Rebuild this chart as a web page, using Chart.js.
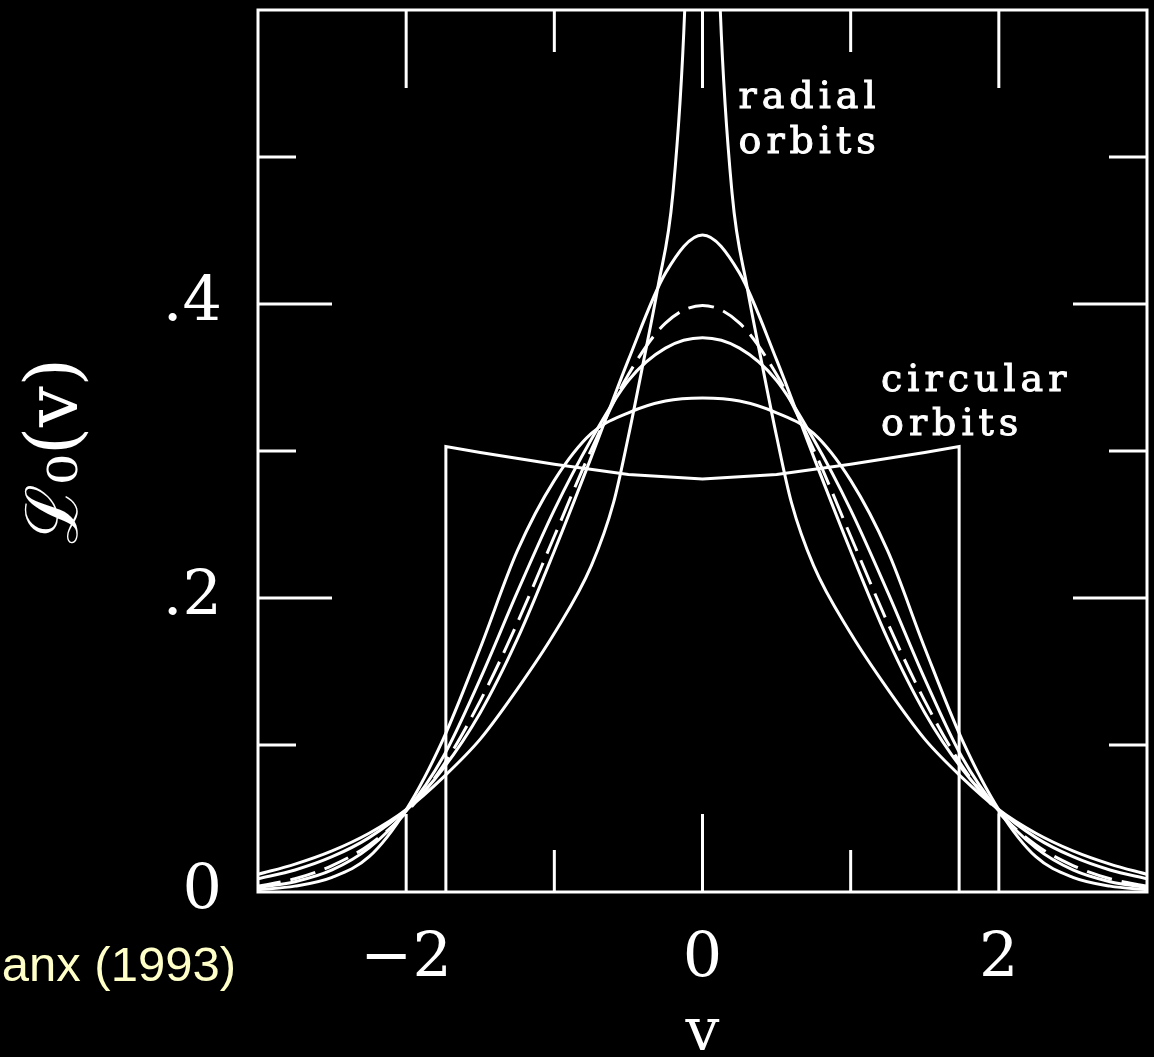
<!DOCTYPE html>
<html>
<head>
<meta charset="utf-8">
<title>Line-of-sight velocity profiles</title>
<script src="https://cdn.jsdelivr.net/npm/chart.js@4.4.1/dist/chart.umd.min.js"></script>
<style>
  html, body { margin: 0; padding: 0; background: #000; }
  canvas { display: block; }
</style>
</head>
<body>
<canvas id="chart" width="1154" height="1057"></canvas>
<script>
// velocity grid (in units of the dispersion) for the smooth profiles
const vGrid = [-3, -2.75, -2.5, -2.25, -2, -1.75, -1.5, -1.25, -1, -0.75, -0.5, -0.25, 0,
               0.25, 0.5, 0.75, 1, 1.25, 1.5, 1.75, 2, 2.25, 2.5, 2.75, 3];

// gaussian reference profile (dashed)
const gaussProfile = [0.004, 0.009, 0.018, 0.032, 0.054, 0.086, 0.130, 0.183, 0.242, 0.301, 0.352, 0.387, 0.399,
                      0.387, 0.352, 0.301, 0.242, 0.183, 0.130, 0.086, 0.054, 0.032, 0.018, 0.009, 0.004];
const peak45Profile = [0.009, 0.015, 0.024, 0.037, 0.056, 0.084, 0.122, 0.172, 0.232, 0.296, 0.362, 0.421, 0.447,
                       0.421, 0.362, 0.296, 0.232, 0.172, 0.122, 0.084, 0.056, 0.037, 0.024, 0.015, 0.009];
const peak375Profile = [0.003, 0.007, 0.015, 0.030, 0.055, 0.092, 0.145, 0.204, 0.260, 0.308, 0.348, 0.370, 0.377,
                        0.370, 0.348, 0.308, 0.260, 0.204, 0.145, 0.092, 0.055, 0.030, 0.015, 0.007, 0.003];
const peak333Profile = [0.0015, 0.004, 0.010, 0.024, 0.056, 0.104, 0.166, 0.232, 0.280, 0.312, 0.326, 0.334, 0.336,
                        0.334, 0.326, 0.312, 0.280, 0.232, 0.166, 0.104, 0.056, 0.024, 0.010, 0.004, 0.0015];

// radial orbits: cusp at v = 0, finer sampling near the centre
const radialV = [-3, -2.75, -2.5, -2.25, -2, -1.75, -1.5, -1.25, -1, -0.75, -0.6, -0.5, -0.4, -0.3, -0.2, -0.12, -0.05, 0,
                 0.05, 0.12, 0.2, 0.3, 0.4, 0.5, 0.6, 0.75, 1, 1.25, 1.5, 1.75, 2, 2.25, 2.5, 2.75, 3];
const radialProfile = [0.012, 0.019, 0.028, 0.040, 0.056, 0.078, 0.104, 0.138, 0.176, 0.222, 0.265, 0.310, 0.360, 0.412, 0.475, 0.600, 0.850, 1.200,
                       0.850, 0.600, 0.475, 0.412, 0.360, 0.310, 0.265, 0.222, 0.176, 0.138, 0.104, 0.078, 0.056, 0.040, 0.028, 0.019, 0.012];

// circular orbits: box between -sqrt(3) and +sqrt(3)
const circularV = [-1.732, -1.732, -1.5, -1, -0.5, 0, 0.5, 1, 1.5, 1.732, 1.732];
const circularProfile = [0, 0.303, 0.299, 0.291, 0.284, 0.281, 0.284, 0.291, 0.299, 0.303, 0];

// axis ticks
const xTickVals = [-2, 0, 2];
const xTickLabels = ['\u22122', '0', '2'];
const xMinorTicks = [-1, 1];
const yTickVals = [0, 0.2, 0.4];
const yTickLabels = ['0', '.2', '.4'];
const yMajorTicks = [0.2, 0.4];
const yMinorTicks = [0.1, 0.3, 0.5];

const WHITE = '#ffffff';
const SERIF = '"DejaVu Serif", "Liberation Serif", serif';

function toPoints(xs, ys) {
  return xs.map((v, i) => ({ x: v, y: ys[i] }));
}

function profile(xs, ys, extra) {
  return Object.assign({
    data: toPoints(xs, ys),
    borderColor: WHITE,
    borderWidth: 3,
    pointRadius: 0,
    fill: false,
    cubicInterpolationMode: 'monotone'
  }, extra || {});
}

// frame, inward tick marks and the orbit labels
const framePlugin = {
  id: 'frame',
  beforeDraw(chart) {
    const ctx = chart.ctx;
    ctx.save();
    ctx.fillStyle = '#000';
    ctx.fillRect(0, 0, chart.width, chart.height);
    ctx.restore();
  },
  afterDatasetsDraw(chart) {
    const { ctx, chartArea: a, scales: { x, y } } = chart;
    ctx.save();
    ctx.strokeStyle = WHITE;
    ctx.lineWidth = 3;
    ctx.lineCap = 'square';
    ctx.strokeRect(a.left, a.top, a.right - a.left, a.bottom - a.top);

    const seg = (x1, y1, x2, y2) => {
      ctx.beginPath();
      ctx.moveTo(x1, y1);
      ctx.lineTo(x2, y2);
      ctx.stroke();
    };
    ctx.lineCap = 'butt';
    const xTick = (v, len) => {
      const px = x.getPixelForValue(v);
      seg(px, a.bottom, px, a.bottom - len);
      seg(px, a.top, px, a.top + len);
    };
    const yTick = (v, len) => {
      const py = y.getPixelForValue(v);
      seg(a.left, py, a.left + len, py);
      seg(a.right, py, a.right - len, py);
    };
    xTickVals.forEach(v => xTick(v, 78));
    xMinorTicks.forEach(v => xTick(v, 42));
    yMajorTicks.forEach(v => yTick(v, 74));
    yMinorTicks.forEach(v => yTick(v, 38));

    // orbit labels, slightly emboldened with a thin outline
    ctx.fillStyle = WHITE;
    ctx.lineWidth = 1;
    ctx.font = '38px ' + SERIF;
    ctx.letterSpacing = '5px';
    ctx.textAlign = 'left';
    ctx.textBaseline = 'alphabetic';
    const note = (text, v, val) => {
      const px = x.getPixelForValue(v);
      const py = y.getPixelForValue(val);
      ctx.fillText(text, px, py);
      ctx.strokeText(text, px, py);
    };
    note('radial', 0.243, 0.533);
    note('orbits', 0.243, 0.503);
    note('circular', 1.205, 0.341);
    note('orbits', 1.205, 0.311);
    ctx.letterSpacing = '0px';

    // reference line at the lower left
    ctx.fillStyle = '#ffffc8';
    ctx.font = '49px "Liberation Sans", Arial, sans-serif';
    ctx.textAlign = 'right';
    ctx.fillText('anx (1993)', 236, 981);
    ctx.restore();
  }
};

const ctx = document.getElementById('chart').getContext('2d');
new Chart(ctx, {
  type: 'line',
  data: {
    datasets: [
      profile(radialV, radialProfile),
      profile(vGrid, peak45Profile),
      profile(vGrid, gaussProfile, { borderDash: [26, 10], borderDashOffset: 3 }),
      profile(vGrid, peak375Profile),
      profile(vGrid, peak333Profile),
      profile(circularV, circularProfile, { cubicInterpolationMode: 'default', tension: 0 })
    ]
  },
  options: {
    responsive: false,
    animation: false,
    events: [],
    layout: { padding: { top: 10, right: 7, bottom: 0, left: 0 } },
    plugins: {
      legend: { display: false },
      tooltip: { enabled: false }
    },
    scales: {
      x: {
        type: 'linear',
        min: -3,
        max: 3,
        grid: { display: false, drawTicks: false },
        border: { display: false },
        afterBuildTicks: s => { s.ticks = xTickVals.map(v => ({ value: v })); },
        afterFit: s => {
          s.height = 165;
          s.paddingLeft = 0;
          s.paddingRight = 0;
        },
        ticks: {
          color: WHITE,
          padding: 31,
          maxRotation: 0,
          autoSkip: false,
          font: { family: SERIF, size: 62 },
          callback: v => xTickLabels[xTickVals.indexOf(v)]
        },
        title: {
          display: true,
          text: 'v',
          color: WHITE,
          padding: 0,
          font: { family: SERIF, size: 60, lineHeight: 0.75 }
        }
      },
      y: {
        min: 0,
        max: 0.6,
        grid: { display: false, drawTicks: false },
        border: { display: false },
        afterBuildTicks: s => { s.ticks = yTickVals.map(v => ({ value: v })); },
        afterFit: s => {
          s.width = 258;
          s.paddingTop = 0;
          s.paddingBottom = 0;
        },
        ticks: {
          color: WHITE,
          padding: 36,
          autoSkip: false,
          font: { family: SERIF, size: 62 },
          callback: v => yTickLabels[yTickVals.indexOf(v)]
        },
        title: {
          display: true,
          text: '\u2112\u2080(v)',
          color: WHITE,
          padding: { top: 15, bottom: 0 },
          font: { family: SERIF, size: 72, lineHeight: 1.2 }
        }
      }
    }
  },
  plugins: [framePlugin]
});
</script>
</body>
</html>
